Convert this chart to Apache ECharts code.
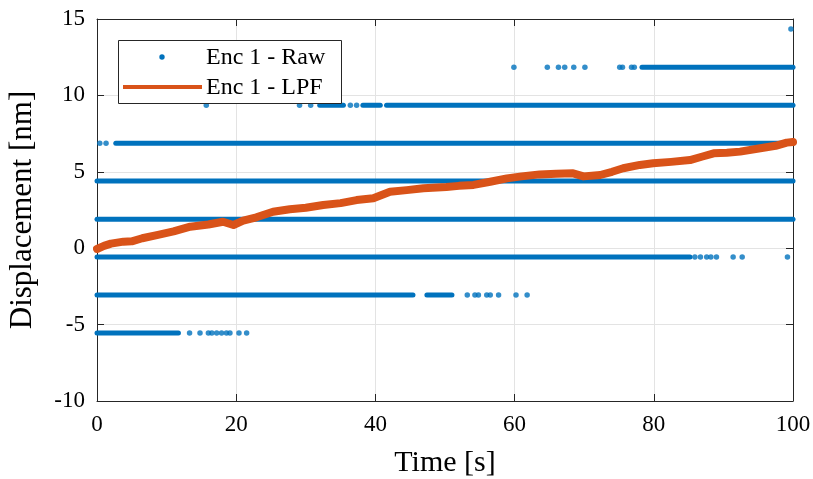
<!DOCTYPE html>
<html>
<head>
<meta charset="utf-8">
<script src="https://cdn.jsdelivr.net/npm/echarts@6/dist/echarts.min.js"></script>
<style>html,body{margin:0;padding:0;background:#fff}#c{width:813px;height:479px}</style>
</head>
<body>
<div id="c"></div>
<script>
// Quantization levels of the raw encoder signal [nm]
const levels = [-5.55, -3.06, -0.58, 1.89, 4.39, 6.87, 9.36, 11.85, 14.35];
// Dense runs of raw samples per level: [start time, end time]
const rawRuns = [
  [[0, 11.7]],
  [[0, 45.4], [47.4, 51.0]],
  [[0, 85.2]],
  [[0, 100]],
  [[0, 100]],
  [[2.7, 100]],
  [[32.0, 35.4], [38.2, 40.7], [41.6, 100]],
  [[78.3, 100]],
  []
];
// Isolated raw samples per level: times [s]
const rawDots = [
  [13.3, 14.8, 16.0, 16.5, 17.2, 17.9, 18.6, 19.1, 20.4, 21.5],
  [53.2, 54.3, 54.8, 56.0, 56.5, 57.7, 60.2, 61.8],
  [85.9, 86.7, 87.6, 88.2, 89.0, 91.4, 92.7, 99.2],
  [],
  [],
  [0.4, 1.3],
  [15.7, 29.1, 30.7, 36.4, 37.3],
  [59.9, 64.7, 66.3, 67.2, 68.5, 70.1, 75.1, 75.5, 76.8, 77.2],
  [99.7]
];
// Low-pass filtered signal
const lpfTime = [0, 1, 2, 3.8, 5, 6.5, 8.6, 11, 13.4, 16, 18.1, 19.6, 21, 22.9, 25.3, 27.7, 30, 32.5, 35, 37.3, 39.7, 42.1, 44.5, 46.9, 50.2, 52, 54.1, 56.5, 58.9, 61, 63.6, 66, 68.4, 69.9, 72.3, 74, 75.6, 78, 79.9, 82.5, 85.2, 87, 88.6, 90.5, 92.4, 95.3, 97.5, 99.1, 100];
const lpfValue = [-0.05, 0.15, 0.3, 0.43, 0.45, 0.65, 0.86, 1.1, 1.41, 1.55, 1.73, 1.52, 1.8, 2.02, 2.39, 2.55, 2.65, 2.83, 2.95, 3.15, 3.27, 3.7, 3.8, 3.92, 4.0, 4.08, 4.14, 4.35, 4.57, 4.7, 4.83, 4.88, 4.9, 4.7, 4.79, 5.0, 5.23, 5.45, 5.56, 5.65, 5.77, 6.0, 6.21, 6.25, 6.32, 6.54, 6.7, 6.91, 6.95];
const xTicks = [0, 20, 40, 60, 80, 100];
const yTicks = [-10, -5, 0, 5, 10, 15];
const legendLabels = ['Enc 1 - Raw', 'Enc 1 - LPF'];

const BLUE = '#0072BD', ORANGE = '#D95319', AX = '#262626';
const FONT = 'Liberation Serif';

const runData = [];
levels.forEach((lv, i) => rawRuns[i].forEach(r => runData.push([r[0], r[1], lv])));
const dotData = [];
levels.forEach((lv, i) => rawDots[i].forEach(t => dotData.push([t, lv])));
const lpfData = lpfTime.map((t, i) => [t, lpfValue[i]]);

const chart = echarts.init(document.getElementById('c'), null, {renderer: 'canvas'});
const axCommon = {
  axisLine: {show: true, onZero: false, lineStyle: {color: AX, width: 1}},
  axisTick: {show: true, inside: true, length: 7, lineStyle: {color: AX}},
};
chart.setOption({
  animation: false,
  grid: {left: 97, right: 20, top: 19, bottom: 78, containLabel: false, outerBoundsMode: 'none'},
  xAxis: [
    Object.assign({
      type: 'value', min: xTicks[0], max: xTicks[xTicks.length - 1], interval: 20,
      name: 'Time [s]', nameLocation: 'middle', nameGap: 47,
      nameTextStyle: {fontFamily: FONT, fontSize: 30, color: '#000'},
      axisLabel: {fontFamily: FONT, fontSize: 23, color: '#000', margin: 12},
      splitLine: {show: true, lineStyle: {color: '#e3e3e3', width: 1}}
    }, axCommon),
    Object.assign({
      type: 'value', position: 'top', min: xTicks[0], max: xTicks[xTicks.length - 1], interval: 20,
      axisLabel: {show: false}, splitLine: {show: false}
    }, axCommon)
  ],
  yAxis: [
    Object.assign({
      type: 'value', min: yTicks[0], max: yTicks[yTicks.length - 1], interval: 5,
      name: 'Displacement [nm]', nameLocation: 'middle', nameGap: 59,
      nameTextStyle: {fontFamily: FONT, fontSize: 31, color: '#000'},
      axisLabel: {fontFamily: FONT, fontSize: 23, color: '#000', margin: 12},
      splitLine: {show: true, lineStyle: {color: '#e3e3e3', width: 1}}
    }, axCommon),
    Object.assign({
      type: 'value', position: 'right', min: yTicks[0], max: yTicks[yTicks.length - 1], interval: 5,
      axisLabel: {show: false}, splitLine: {show: false}
    }, axCommon)
  ],
  series: [
    {
      name: legendLabels[0], type: 'custom', data: runData, clip: false,
      encode: {x: [0, 1], y: 2},
      renderItem: function (params, api) {
        const p1 = api.coord([api.value(0), api.value(2)]);
        const p2 = api.coord([api.value(1), api.value(2)]);
        return {type: 'line', shape: {x1: p1[0], y1: p1[1], x2: p2[0], y2: p2[1]},
          style: {stroke: BLUE, lineWidth: 5, lineCap: 'round'}};
      }
    },
    {
      name: legendLabels[0] + ' samples', type: 'scatter', data: dotData, clip: false,
      symbol: 'circle', symbolSize: 5.5, itemStyle: {color: BLUE}
    },
    {
      name: legendLabels[1], type: 'line', data: lpfData, showSymbol: false, symbol: 'none',
      lineStyle: {color: ORANGE, width: 8, cap: 'round', join: 'round'}, z: 5
    }
  ],
  graphic: [
    {type: 'rect', left: 118, top: 40, shape: {width: 223, height: 63}, z: 100,
      style: {fill: '#fff', stroke: AX, lineWidth: 1}},
    {type: 'circle', shape: {cx: 162, cy: 57, r: 2.7}, z: 101, style: {fill: BLUE}},
    {type: 'line', shape: {x1: 123, y1: 87, x2: 202, y2: 87}, z: 101,
      style: {stroke: ORANGE, lineWidth: 4}},
    {type: 'text', x: 206, y: 58, z: 101,
      style: {text: legendLabels[0], font: '24px "Liberation Serif"', fill: '#000', verticalAlign: 'middle'}},
    {type: 'text', x: 206, y: 88, z: 101,
      style: {text: legendLabels[1], font: '24px "Liberation Serif"', fill: '#000', verticalAlign: 'middle'}}
  ]
});
</script>
</body>
</html>
